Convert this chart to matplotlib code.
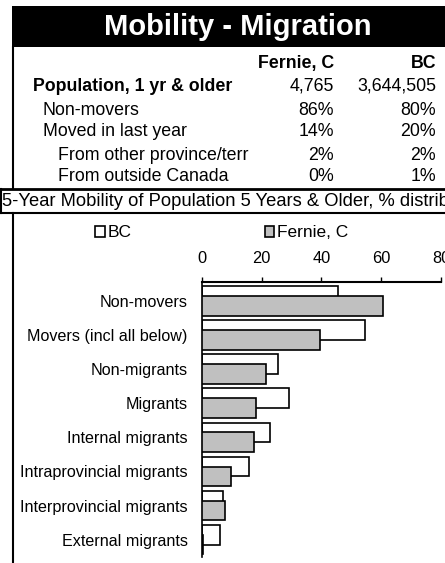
import matplotlib
matplotlib.use("Agg")
import matplotlib.pyplot as plt
from matplotlib.lines import Line2D
from matplotlib.patches import Rectangle
import numpy as np

plt.rcParams['font.family'] = ['Liberation Sans', 'DejaVu Sans']

# ---- data ----
title = "Mobility - Migration"
table_cols = ["Fernie, C", "BC"]
table_rows = ["Population, 1 yr & older", "Non-movers", "Moved in last year",
              "From other province/terr", "From outside Canada"]
table_fernie = ["4,765", "86%", "14%", "2%", "0%"]
table_bc = ["3,644,505", "80%", "20%", "2%", "1%"]
chart_title = "5-Year Mobility of Population 5 Years & Older, % distribution"

categories = ["Non-movers", "Movers (incl all below)", "Non-migrants", "Migrants",
              "Internal migrants", "Intraprovincial migrants",
              "Interprovincial migrants", "External migrants"]
bc_values = [45.5, 54.6, 25.4, 29.2, 22.9, 15.7, 7.2, 6.2]
fernie_values = [60.7, 39.4, 21.4, 18.2, 17.5, 9.8, 7.8, 0.4]
x_ticks = [0, 20, 40, 60, 80]

W, H = 445, 563
fig = plt.figure(figsize=(W / 100, H / 100), dpi=100)

def fx(x):
    return x / W

def fy(y):
    return 1 - y / H

# title band
fig.add_artist(Rectangle((fx(12), fy(47)), fx(W - 12) + 0.01, (47 - 6) / H,
                         transform=fig.transFigure, facecolor='black',
                         edgecolor='none'))
fig.text(fx(237.5), fy(27), title, color='white', fontsize=21,
         fontweight='bold', ha='center', va='center')

def hline(y, x0, x1, lw=1.5):
    fig.add_artist(Line2D([fx(x0), fx(x1)], [fy(y), fy(y)],
                          transform=fig.transFigure, color='black', lw=lw))

def vline(x, y0, y1, lw=1.5):
    fig.add_artist(Line2D([fx(x), fx(x)], [fy(y0), fy(y1)],
                          transform=fig.transFigure, color='black', lw=lw))

vline(12.5, 47, 189)
hline(189.5, 0, W, lw=2)
vline(0.8, 189, 213)
hline(213.3, 0, W, lw=1.5)
vline(12.5, 213, H)

# table
fs = 12.8
fig.text(fx(334), fy(64), table_cols[0], fontsize=fs, fontweight='bold',
         ha='right', va='center')
fig.text(fx(436), fy(64), table_cols[1], fontsize=fs, fontweight='bold',
         ha='right', va='center')
row_y = [86, 110.5, 131, 156, 177]
row_x = [33, 43, 43, 58, 58]
for i, (lab, fv, bv) in enumerate(zip(table_rows, table_fernie, table_bc)):
    fw = 'bold' if i == 0 else 'normal'
    fig.text(fx(row_x[i]), fy(row_y[i]), lab, fontsize=fs, fontweight=fw,
             ha='left', va='center')
    fig.text(fx(334), fy(row_y[i]), fv, fontsize=fs, ha='right', va='center')
    fig.text(fx(436), fy(row_y[i]), bv, fontsize=fs, ha='right', va='center')

fig.text(fx(2.5), fy(202), chart_title, fontsize=13.2, ha='left', va='center')

# chart
lfs = 11.6
ax = fig.add_axes([fx(201.7), 1 - 556.7 / H, (441 - 201.7) / W, 274.4 / H])
y = np.arange(len(categories))
bh = 0.58
off = 0.145
b1 = ax.barh(y - off, bc_values, height=bh, color='white', edgecolor='black',
             linewidth=1.2, zorder=2, label='BC')
b2 = ax.barh(y + off, fernie_values, height=bh, color='#c0c0c0',
             edgecolor='black', linewidth=1.2, zorder=3, label='Fernie, C')
ax.set_xlim(0, 80)
ax.set_ylim(len(categories) - 0.5, -0.55)
ax.set_yticks(y)
ax.set_yticklabels(categories, fontsize=lfs)
ax.set_xticks(x_ticks)
ax.xaxis.tick_top()
ax.tick_params(axis='x', direction='out', length=3.5, width=1, pad=8,
               labelsize=11.8, colors='black')
ax.tick_params(axis='y', length=0, pad=10)
for s in ['right', 'bottom']:
    ax.spines[s].set_visible(False)
ax.spines['top'].set_linewidth(1.5)
ax.spines['left'].set_linewidth(1.2)
ax.set_facecolor('none')

leg = fig.legend(handles=[b1, b2], labels=['BC', 'Fernie, C'], ncol=2,
                 loc='center left', bbox_to_anchor=(fx(95), fy(233)),
                 frameon=False, fontsize=12.5, handlelength=0.55,
                 handleheight=0.55, handletextpad=0.15, columnspacing=7.7,
                 borderaxespad=0, borderpad=0)

fig.savefig("out.png", dpi=100)
